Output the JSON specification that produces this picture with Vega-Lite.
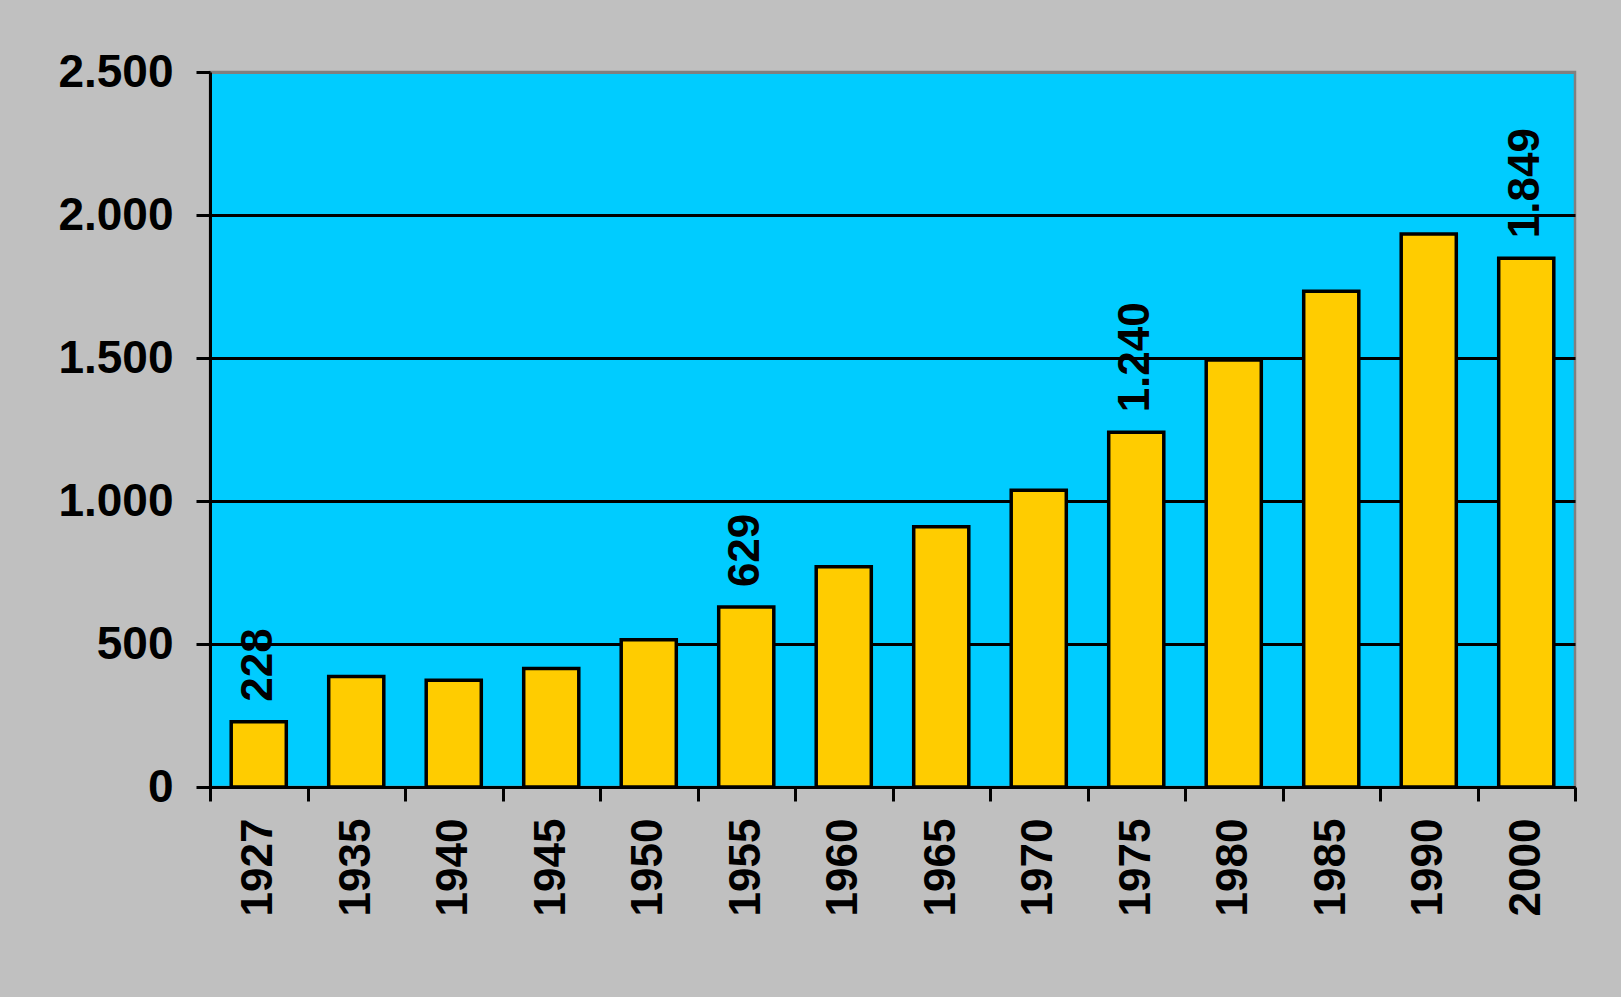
{
  "$schema": "https://vega.github.io/schema/vega-lite/v6.json",
  "autosize": {"type": "none"},
  "width": 1365,
  "height": 715,
  "padding": {"left": 210, "top": 72, "right": 46, "bottom": 210},
  "background": "#C0C0C0",
  "config": {
    "locale": {"number": {"decimal": ",", "thousands": ".", "grouping": [3], "currency": ["", ""]}},
    "view": {"fill": "#00CCFF", "stroke": "#808080", "strokeWidth": 2.5},
    "font": "Liberation Sans"
  },
  "data": {
    "values": [
      {"year": "1927", "value": 228, "label": "228"},
      {"year": "1935", "value": 386, "label": ""},
      {"year": "1940", "value": 373, "label": ""},
      {"year": "1945", "value": 414, "label": ""},
      {"year": "1950", "value": 515, "label": ""},
      {"year": "1955", "value": 629, "label": "629"},
      {"year": "1960", "value": 770, "label": ""},
      {"year": "1965", "value": 910, "label": ""},
      {"year": "1970", "value": 1038, "label": ""},
      {"year": "1975", "value": 1240, "label": "1.240"},
      {"year": "1980", "value": 1493, "label": ""},
      {"year": "1985", "value": 1733, "label": ""},
      {"year": "1990", "value": 1934, "label": ""},
      {"year": "2000", "value": 1849, "label": "1.849"}
    ]
  },
  "encoding": {
    "x": {
      "field": "year",
      "type": "ordinal",
      "sort": null,
      "scale": {"paddingInner": 0, "paddingOuter": 0},
      "axis": {
        "title": null,
        "labelAngle": -90,
        "labelFont": "Liberation Sans",
        "labelFontSize": 44,
        "labelFontWeight": "bold",
        "labelColor": "#000000",
        "labelPadding": 17,
        "tickBand": "extent",
        "tickSize": 14,
        "tickWidth": 3,
        "tickColor": "#000000",
        "domainColor": "#000000",
        "domainWidth": 3,
        "grid": false
      }
    },
    "y": {
      "field": "value",
      "type": "quantitative",
      "scale": {"domain": [0, 2500], "nice": false},
      "axis": {
        "title": null,
        "values": [0, 500, 1000, 1500, 2000, 2500],
        "format": ",d",
        "labelFont": "Liberation Sans",
        "labelFontSize": 46,
        "labelFontWeight": "bold",
        "labelColor": "#000000",
        "labelPadding": 23,
        "tickSize": 14,
        "tickWidth": 3,
        "tickColor": "#000000",
        "domainColor": "#000000",
        "domainWidth": 3,
        "grid": true,
        "gridColor": {"condition": {"test": "datum.value === 2500", "value": "#808080"}, "value": "#000000"},
        "gridWidth": 3,
        "gridOpacity": 1
      }
    }
  },
  "layer": [
    {
      "mark": {"type": "bar", "color": "#FFCC00", "stroke": "#000000", "strokeWidth": 3.5, "width": {"band": 0.565}}
    },
    {
      "mark": {
        "type": "text",
        "angle": 270,
        "align": "left",
        "baseline": "middle",
        "dx": 20,
        "font": "Liberation Sans",
        "fontSize": 44,
        "fontWeight": "bold",
        "color": "#000000"
      },
      "encoding": {"text": {"field": "label"}}
    }
  ]
}
